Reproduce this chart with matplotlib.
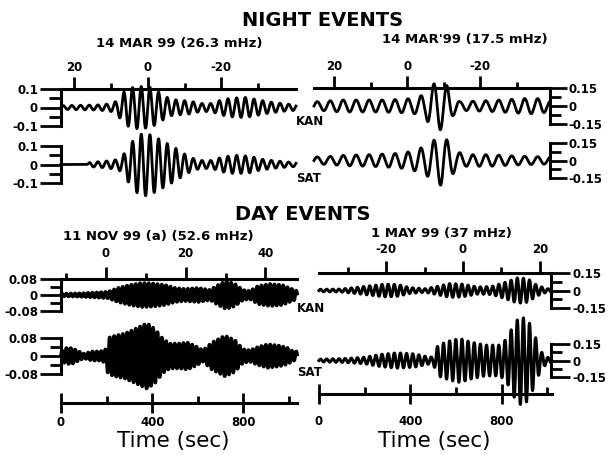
import numpy as np
import matplotlib.pyplot as plt
from matplotlib.ticker import FixedLocator

W, H = 608, 455

# carrier frequencies (mHz) from the panel titles
freq_nl = 26.3
freq_nr = 17.5
freq_dl = 52.6
freq_dr = 37.0

# envelope knots: time (sec) / amplitude
nl_kan_t = [0, 80, 160, 215, 245, 265, 290, 335, 390, 420, 450, 480, 515, 565, 610, 660, 700, 740, 805, 850, 915, 980, 1030]
nl_kan_a = [0.01, 0.012, 0.014, 0.02, 0.035, 0.07, 0.1, 0.115, 0.11, 0.09, 0.065, 0.045, 0.04, 0.035, 0.022, 0.022, 0.04, 0.05, 0.055, 0.045, 0.03, 0.02, 0.015]
nl_sat_t = [0, 110, 127, 193, 250, 272, 303, 338, 373, 412, 456, 500, 544, 575, 610, 662, 706, 763, 829, 873, 939, 1013]
nl_sat_a = [0, 0, 0.012, 0.018, 0.027, 0.05, 0.11, 0.16, 0.17, 0.15, 0.12, 0.09, 0.055, 0.035, 0.022, 0.022, 0.04, 0.05, 0.045, 0.03, 0.02, 0.012]

nr_kan_t = [0, 48, 115, 203, 291, 379, 445, 489, 520, 555, 586, 613, 643, 687, 776, 864, 952, 1005, 1040]
nr_kan_a = [0.035, 0.04, 0.05, 0.05, 0.05, 0.055, 0.065, 0.1, 0.18, 0.2, 0.17, 0.08, 0.035, 0.04, 0.045, 0.055, 0.065, 0.06, 0.04]
nr_sat_t = [0, 71, 137, 247, 357, 423, 489, 533, 564, 599, 626, 665, 776, 864, 952, 1031]
nr_sat_a = [0.03, 0.035, 0.045, 0.05, 0.06, 0.075, 0.12, 0.18, 0.22, 0.15, 0.08, 0.05, 0.05, 0.04, 0.035, 0.03]

dl_kan_t = [4, 83, 149, 206, 250, 303, 355, 399, 456, 500, 544, 601, 654, 689, 724, 763, 798, 829, 864, 917, 969, 1013, 1035]
dl_kan_a = [0.006, 0.008, 0.012, 0.016, 0.035, 0.05, 0.06, 0.058, 0.05, 0.035, 0.03, 0.035, 0.025, 0.05, 0.07, 0.055, 0.025, 0.02, 0.045, 0.055, 0.05, 0.03, 0.02]
dl_sat_t = [0, 22, 48, 79, 101, 136, 171, 197, 206, 237, 281, 325, 377, 412, 447, 478, 522, 553, 588, 623, 662, 719, 763, 798, 829, 864, 908, 961, 996, 1018]
dl_sat_a = [0.02, 0.035, 0.035, 0.02, 0.01, 0.02, 0.02, 0.03, 0.08, 0.09, 0.1, 0.12, 0.145, 0.12, 0.075, 0.055, 0.055, 0.06, 0.045, 0.025, 0.06, 0.09, 0.07, 0.03, 0.025, 0.04, 0.052, 0.045, 0.035, 0.02]

dr_kan_t = [0, 92, 158, 224, 290, 347, 400, 466, 519, 576, 629, 699, 761, 818, 875, 919, 954, 993, 1020]
dr_kan_a = [0.01, 0.012, 0.025, 0.04, 0.055, 0.05, 0.025, 0.015, 0.035, 0.06, 0.055, 0.03, 0.035, 0.07, 0.11, 0.1, 0.05, 0.02, 0.01]
dr_sat_t = [0, 114, 202, 268, 343, 422, 475, 501, 523, 576, 620, 664, 730, 796, 826, 857, 884, 919, 950, 976, 1002, 1020]
dr_sat_a = [0.012, 0.018, 0.03, 0.055, 0.07, 0.06, 0.035, 0.03, 0.14, 0.18, 0.2, 0.17, 0.14, 0.14, 0.2, 0.33, 0.4, 0.37, 0.22, 0.08, 0.03, 0.02]

# top-axis tick values
nl_top_major, nl_top_minor = [20, 0, -20], [10, -10, -30]
nr_top_major, nr_top_minor = [20, 0, -20], [10, -10, -30]
dl_top_major, dl_top_minor = [0, 20, 40], [-10, 10, 30]
dr_top_major, dr_top_minor = [-20, 0, 20], [-30, -10, 10]

time_major = [0, 400, 800]
time_minor = [200, 600, 1000]

plt.rcParams['font.family'] = ['DejaVu Sans']
plt.rcParams['font.weight'] = 'bold'
plt.rcParams['axes.unicode_minus'] = False

fig = plt.figure(figsize=(6.08, 4.55), dpi=100)


def px_rect(x0, x1, y0, y1):
    return [x0 / W, 1 - y1 / H, (x1 - x0) / W, (y1 - y0) / H]


def text_px(x, y, s, size, weight='bold', ha='center'):
    fig.text(x / W, 1 - y / H, s, fontsize=size, fontweight=weight, ha=ha, va='center')


def trace_axes(rect, tmax, v, side, kt, ka, f, lw, tick_len):
    ax = fig.add_axes(rect)
    ax.patch.set_visible(False)
    ax.set_xlim(0, tmax)
    ax.set_ylim(-v, v)
    t = np.linspace(0, tmax, 9000)
    env = np.interp(t, kt, ka)
    ax.plot(t, env * np.sin(2 * np.pi * f * 1e-3 * t), color='k', lw=lw, clip_on=False)
    ax.set_xticks([])
    for s in ['top', 'bottom', 'left', 'right']:
        ax.spines[s].set_visible(s == side)
    ax.spines[side].set_linewidth(2.2)
    if side == 'right':
        ax.yaxis.tick_right()
    lab = '%g' % v
    ax.set_yticks([v, 0, -v])
    ax.set_yticklabels([lab, '0', '-' + lab])
    ax.yaxis.set_minor_locator(FixedLocator([v / 2, -v / 2]))
    ax.tick_params(axis='y', which='major', direction='out', length=tick_len[0], width=2, pad=1.5, labelsize=8.5)
    ax.tick_params(axis='y', which='minor', direction='out', length=tick_len[1], width=2)
    return ax


def top_axis(ax, u0, u1, major, minor, pad):
    tw = ax.twiny()
    tw.set_xlim(u0, u1)
    tw.xaxis.set_major_locator(FixedLocator(major))
    tw.xaxis.set_minor_locator(FixedLocator(minor))
    tw.set_xticklabels(['%d' % m for m in major])
    for s in ['left', 'right', 'bottom']:
        tw.spines[s].set_visible(False)
    tw.spines['top'].set_linewidth(2.2)
    tw.tick_params(axis='x', which='major', direction='out', length=8.5, width=2, pad=pad, labelsize=8.5)
    tw.tick_params(axis='x', which='minor', direction='out', length=4.5, width=2)


def time_axis(x0, x1, y, tmax, pad):
    tax = fig.add_axes(px_rect(x0, x1, y - 4, y))
    tax.patch.set_visible(False)
    tax.set_xlim(0, tmax)
    tax.set_yticks([])
    for s in ['top', 'left', 'right']:
        tax.spines[s].set_visible(False)
    tax.spines['bottom'].set_linewidth(2.2)
    tax.set_xticks(time_major)
    tax.set_xticklabels(['%d' % m for m in time_major])
    tax.xaxis.set_minor_locator(FixedLocator(time_minor))
    tax.tick_params(axis='x', which='major', direction='inout', length=14, width=2, pad=pad, labelsize=8.5)
    tax.tick_params(axis='x', which='minor', direction='in', length=5, width=2)


# NIGHT EVENTS
text_px(323, 21, 'NIGHT EVENTS', 14)
text_px(179, 44, '14 MAR 99 (26.3 mHz)', 9.5)
text_px(465, 40, "14 MAR'99 (17.5 mHz)", 9.5)

a = trace_axes(px_rect(61, 296, 89, 126), 1030, 0.1, 'left', nl_kan_t, nl_kan_a, freq_nl, 2.0, (15, 8.5))
top_axis(a, 23.66, -40.3, nl_top_major, nl_top_minor, 2.5)
trace_axes(px_rect(61, 296, 146, 183), 1030, 0.1, 'left', nl_sat_t, nl_sat_a, freq_nl, 2.0, (15, 8.5))

a = trace_axes(px_rect(314, 550, 88, 124), 1040, 0.15, 'right', nr_kan_t, nr_kan_a, freq_nr, 2.0, (12, 8))
top_axis(a, 25.5, -39.1, nr_top_major, nr_top_minor, 2.5)
trace_axes(px_rect(314, 550, 143, 178), 1040, 0.15, 'right', nr_sat_t, nr_sat_a, freq_nr, 2.0, (12, 8))

text_px(296, 122, 'KAN', 8.5, ha='left')
text_px(296, 179, 'SAT', 8.5, ha='left')

# DAY EVENTS
text_px(303, 215, 'DAY EVENTS', 14)
text_px(158, 236, '11 NOV 99 (a) (52.6 mHz)', 9.5)
text_px(441, 234, '1 MAY 99 (37 mHz)', 9.5)

a = trace_axes(px_rect(61, 297, 279, 311), 1035, 0.08, 'left', dl_kan_t, dl_kan_a, freq_dl, 2.7, (15, 8))
top_axis(a, -11.26, 47.9, dl_top_major, dl_top_minor, 5)
trace_axes(px_rect(61, 297, 338, 374), 1035, 0.08, 'left', dl_sat_t, dl_sat_a, freq_dl, 2.7, (15, 8))

a = trace_axes(px_rect(319, 551, 273, 308), 1020, 0.15, 'right', dr_kan_t, dr_kan_a, freq_dr, 2.2, (14, 8))
top_axis(a, -37.46, 22.9, dr_top_major, dr_top_minor, 4)
trace_axes(px_rect(319, 551, 344, 377), 1020, 0.15, 'right', dr_sat_t, dr_sat_a, freq_dr, 2.2, (14, 8))

text_px(297, 309, 'KAN', 8.5, ha='left')
text_px(297, 372, 'SAT', 8.5, ha='left')

time_axis(61, 297, 403, 1035, 2)
time_axis(319, 552, 394, 1020, 8)
text_px(173, 441, 'Time (sec)', 15.5, weight='normal')
text_px(434, 441, 'Time (sec)', 15.5, weight='normal')

fig.savefig('out.png', dpi=100)
